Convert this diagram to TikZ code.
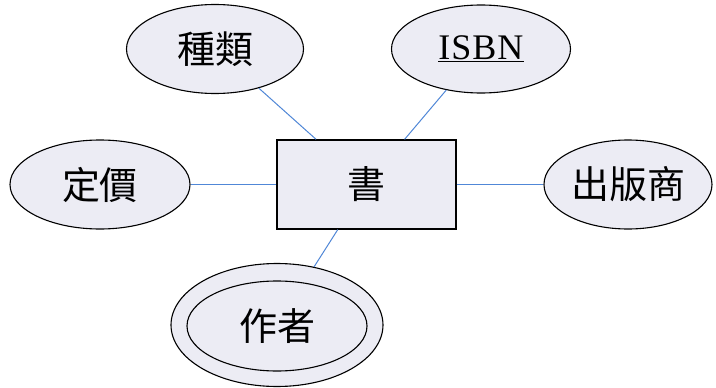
\documentclass[tikz,border=0pt]{standalone}
\usepackage{fontspec}
\setmainfont{Liberation Serif}
\newfontfamily\cjk{Noto Sans CJK TC}
\usetikzlibrary{shapes.geometric}
\definecolor{attrfill}{RGB}{236,236,244}
\definecolor{connblue}{RGB}{80,135,215}
\tikzset{
  attr/.style={ellipse, draw=black, fill=attrfill, line width=1.1pt, inner sep=0pt, font=\cjk\fontsize{38}{42}\selectfont},
  entity/.style={rectangle, draw=black, fill=attrfill, line width=1.3pt, inner sep=0pt, font=\cjk\fontsize{38}{42}\selectfont},
  conn/.style={draw=connblue, line width=1pt}
}
\begin{document}
\begin{tikzpicture}[x=1pt,y=-1pt]
\useasboundingbox[fill=white] (0,0) rectangle (716,388);
\node[attr, minimum width=177pt, minimum height=89pt] (kind) at (215,49) {種類};
\node[attr, minimum width=179pt, minimum height=88pt, font=\fontsize{36}{40}\selectfont] (isbn) at (481,49) {\underline{I\kern1pt S\kern1pt B\kern1pt N}};
\node[attr, minimum width=180pt, minimum height=89pt] (price) at (100,184.5) {定價};
\node[entity, minimum width=179pt, minimum height=89pt] (book) at (366.5,184.5) {書};
\node[attr, minimum width=168pt, minimum height=89pt] (pub) at (628,184.5) {出版商};
\node[attr, minimum width=212pt, minimum height=123pt] (author) at (277,325) {};
\node[attr, fill=none, minimum width=180pt, minimum height=90pt] (authorin) at (277,326) {作者};
\draw[conn] (kind) -- (book);
\draw[conn] (isbn) -- (book);
\draw[conn] (price) -- (book);
\draw[conn] (book) -- (pub);
\draw[conn] (book) -- (author);
\end{tikzpicture}
\end{document}
